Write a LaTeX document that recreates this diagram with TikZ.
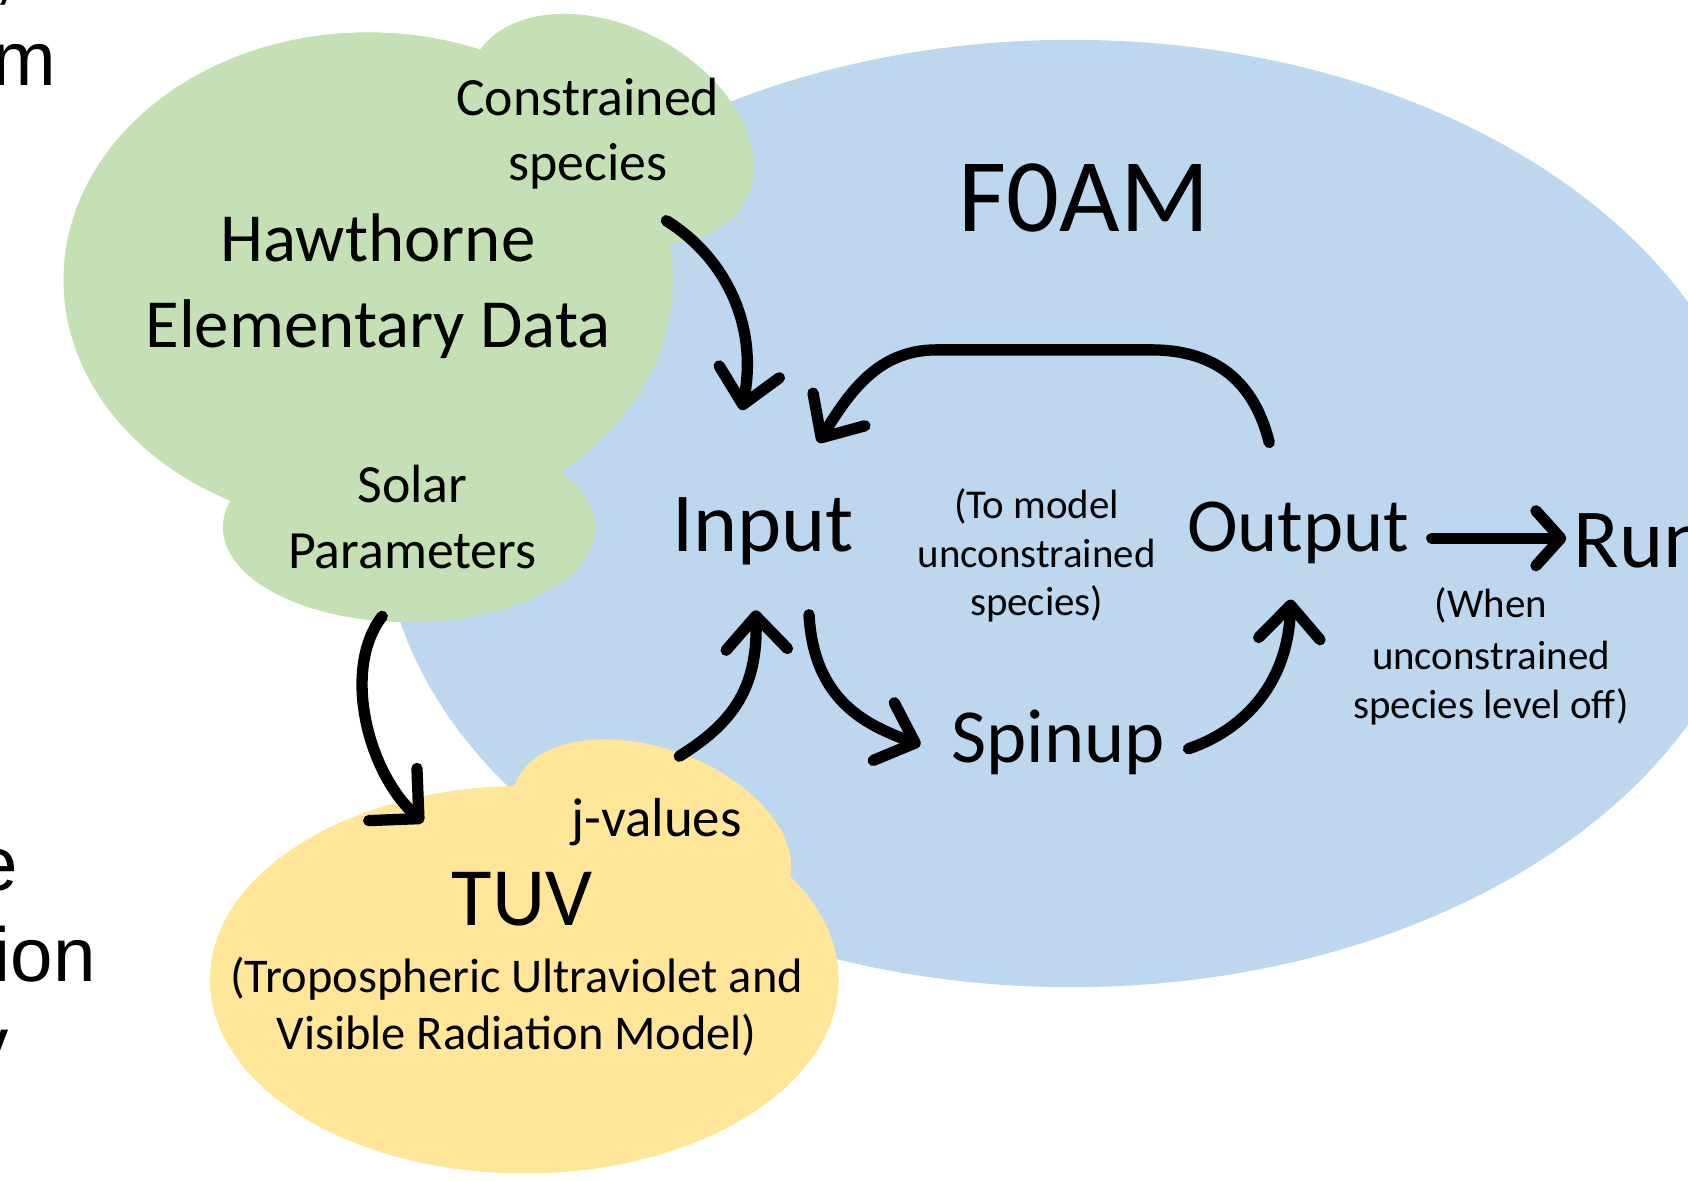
\documentclass[tikz,border=0pt]{standalone}
\usepackage{fontspec}
\setmainfont{Carlito}
\newfontfamily\arialfont{Liberation Sans}
\usetikzlibrary{arrows.meta}
\definecolor{cloudgreen}{HTML}{C5E0B4}
\definecolor{foamblue}{HTML}{BDD7EE}
\definecolor{tuvyellow}{HTML}{FFE699}
\begin{document}
\begin{tikzpicture}[x=1pt,y=-1pt,
  txt/.style={anchor=base, inner sep=0pt, outer sep=0pt},
  frag/.style={anchor=base east, inner sep=0pt, outer sep=0pt, font=\arialfont\fontsize{71}{80}\selectfont},
  sz38/.style={font=\fontsize{38}{46}\selectfont},
  sz45/.style={font=\fontsize{45}{54}\selectfont},
  sz50/.style={font=\fontsize{50}{60}\selectfont},
  sz64/.style={font=\fontsize{64}{77}\selectfont},
  sz71/.style={font=\fontsize{71}{85}\selectfont},
  sz77/.style={font=\fontsize{77}{92}\selectfont},
  sz97/.style={font=\fontsize{97}{116}\selectfont},
  flowline/.style={line width=10.5pt, line cap=round, line join=round},
  flow/.style={flowline, -{Straight Barb[length=31pt, width=57pt, round]}},
  flowwide/.style={flowline, -{Straight Barb[length=33pt, width=66pt, round]}},
  flowshort/.style={flowline, -{Straight Barb[length=23pt, width=51pt, round]}}
  ]
\useasboundingbox (0,0) rectangle (1568,1097);
\clip (0,0) rectangle (1568,1097);

% background shapes
\fill[foamblue] (995,477) ellipse[x radius=640, y radius=440];
\fill[cloudgreen] (342,260) ellipse[x radius=283, y radius=230];
\fill[cloudgreen] (380,490) ellipse[x radius=173, y radius=88];
\fill[cloudgreen, shift={(567,120)}, rotate=-28] (0,0) ellipse[x radius=142, y radius=95];
\fill[tuvyellow] (487,910) ellipse[x radius=292, y radius=180];
\fill[tuvyellow, shift={(605,775)}, rotate=-20] (0,0) ellipse[x radius=135, y radius=80];

% cut-off slide text on the left
\node[frag] (fr0) at (14,-4) {,};
\node[frag] (fr1) at (52,79) {m};
\node[frag] (fr2) at (17,827) {e};
\node[frag] (fr3) at (89,912) {ion};
\node[frag] (fr4) at (8,994) {y};

% labels
\node[txt, sz50] (cs1) at (546,107) {Constrained};
\node[txt, sz50] (cs2) at (546,168) {species};
\node[txt, sz64] (hed1) at (351,243) {Hawthorne};
\node[txt, sz64] (hed2) at (351,323) {Elementary Data};
\node[txt, sz50] (sp1) at (383,467) {Solar};
\node[txt, sz50] (sp2) at (383,528) {Parameters};
\node[txt, sz97] (foam) at (1007,215) {F0AM};
\node[txt, font=\fontsize{78}{94}\selectfont] (input) at (709,512) {Input};
\node[txt, sz38] (tm1) at (963,482) {(To model};
\node[txt, sz38] (tm2) at (963,527) {unconstrained};
\node[txt, sz38] (tm3) at (963,572) {species)};
\node[txt, sz71] (output) at (1206,512) {Output};
\node[txt, sz71] (spinup) at (983,708) {Spinup};
\node[txt, anchor=base west, font=\fontsize{78}{94}\selectfont] (run) at (1462,527) {Run};
\node[txt, sz38] (wh1) at (1385,574) {(When};
\node[txt, sz38] (wh2) at (1385,622) {unconstrained};
\node[txt, sz38] (wh3) at (1385,667) {species level off)};
\node[txt, font=\fontsize{51}{62}\selectfont] (jv) at (610,777) {j-values};
\node[txt, sz77] (tuv) at (485,860) {TUV};
\node[txt, sz45] (tr1) at (480,922) {(Tropospheric Ultraviolet and};
\node[txt, sz45] (tr2) at (480,975) {Visible Radiation Model)};

% connector end points
\coordinate (a0) at (619,205);   \coordinate (a1) at (689,381);
\coordinate (b0) at (1179,411);  \coordinate (b1) at (1069,325);
\coordinate (b2) at (870,325);   \coordinate (b3) at (760,411);
\coordinate (c0) at (751.5,571); \coordinate (c1) at (855,692);
\coordinate (d0) at (1104,695.5);\coordinate (d1) at (1199,557);
\coordinate (e0) at (631,702.5); \coordinate (e1) at (702,567);
\coordinate (f0) at (355,572.5); \coordinate (f1) at (393,764);
\coordinate (g0) at (1330,500);  \coordinate (g1) at (1455,500);

% connectors
\draw[flow] (a0) .. controls (672,238) and (705,300) .. (a1);
\draw[flow] (b0) .. controls (1165,355) and (1130,325) .. (b1) -- (b2)
             .. controls (815,325) and (789,365) .. (b3);
\draw[flow] (c0) .. controls (756,650) and (803,673) .. (c1);
\draw[flow] (d0) .. controls (1150,680) and (1196,640) .. (d1);
\draw[flow] (e0) .. controls (680,672) and (704,640) .. (e1);
\draw[flowwide] (f0) .. controls (318,620) and (340,715) .. (f1);
\draw[flowshort] (g0) -- (g1);
\end{tikzpicture}
\end{document}
